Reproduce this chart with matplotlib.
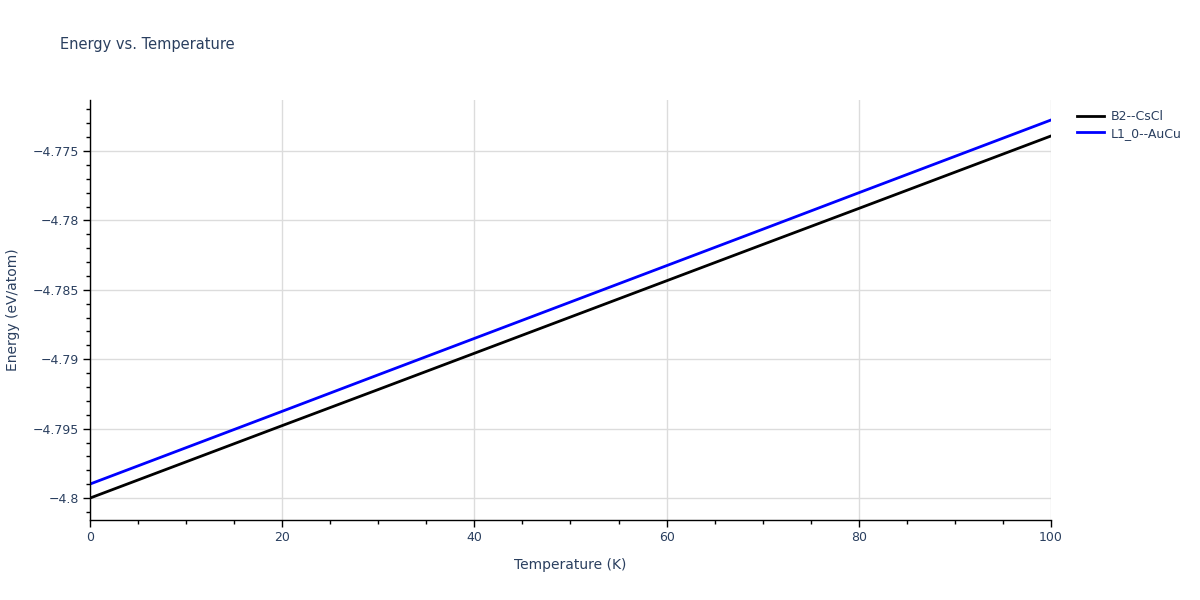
import matplotlib
matplotlib.use('Agg')
import matplotlib.pyplot as plt
from matplotlib.ticker import MultipleLocator, FuncFormatter

temperature = [0, 10, 20, 30, 40, 50, 60, 70, 80, 90, 100]
energy_b2 = [-4.80000, -4.79739, -4.79478, -4.79218, -4.78957, -4.78696,
             -4.78435, -4.78174, -4.77914, -4.77653, -4.77392]
energy_l10 = [-4.79899, -4.79637, -4.79375, -4.79112, -4.78850, -4.78588,
              -4.78326, -4.78064, -4.77801, -4.77539, -4.77277]
labels = ['B2--CsCl', 'L1_0--AuCu']
colors = ['black', 'blue']

plt.rcParams['font.family'] = ['DejaVu Sans']
txt = '#2a3f5f'

fig = plt.figure(figsize=(12, 6), dpi=100)
ax = fig.add_axes([0.075, 0.1333, 0.8008, 0.7])

for vals, lab, c in zip([energy_b2, energy_l10], labels, colors):
    ax.plot(temperature, vals, color=c, lw=2, label=lab)

ax.set_xlim(0, 100)
ax.set_ylim(-4.80158, -4.77133)

ax.xaxis.set_major_locator(MultipleLocator(20))
ax.xaxis.set_minor_locator(MultipleLocator(5))
ax.yaxis.set_major_locator(MultipleLocator(0.005))
ax.yaxis.set_minor_locator(MultipleLocator(0.001))
ax.yaxis.set_major_formatter(FuncFormatter(lambda v, p: ('%g' % round(v, 6)).replace('-', '\u2212')))
ax.xaxis.set_major_formatter(FuncFormatter(lambda v, p: '%g' % v))

ax.grid(True, which='major', color='#dcdcdc', lw=1)
ax.set_axisbelow(True)
for s in ['top', 'right']:
    ax.spines[s].set_visible(False)
for s in ['left', 'bottom']:
    ax.spines[s].set_color('black')
    ax.spines[s].set_linewidth(1)

ax.tick_params(which='major', length=5, width=1, color='black', labelsize=9, labelcolor=txt, pad=3)
ax.tick_params(which='minor', length=3, width=1, color='black')

ax.set_xlabel('Temperature (K)', fontsize=10, color=txt, labelpad=10)
ax.set_ylabel('Energy (eV/atom)', fontsize=10, color=txt, labelpad=9)
fig.text(0.05, 0.925, 'Energy vs. Temperature', fontsize=10.5, color=txt, va='center')

fig.legend(loc='upper left', bbox_to_anchor=(0.893, 0.825), frameon=False,
           fontsize=9, labelcolor=txt, handlelength=2.2, handletextpad=0.5,
           labelspacing=0.3, borderaxespad=0)

fig.savefig('out.png', dpi=100)
